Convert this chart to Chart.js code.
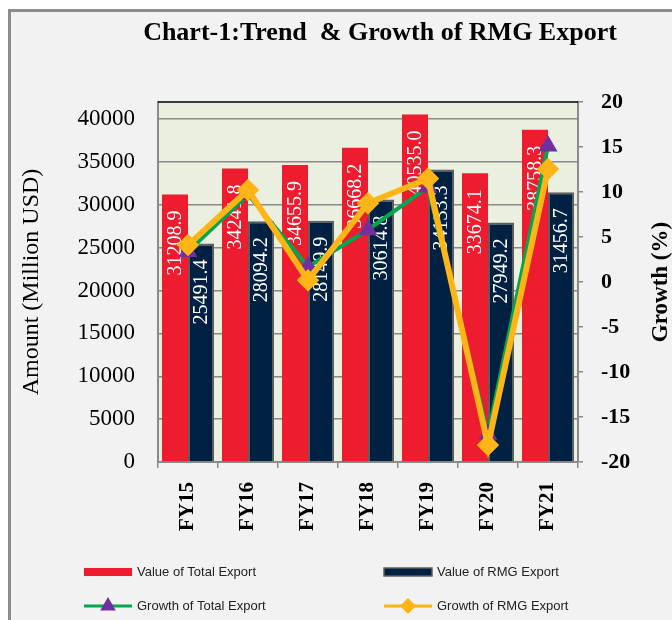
<!DOCTYPE html>
<html lang="en">
<head>
    <meta charset="UTF-8">
    <title>Chart-1: Trend & Growth of RMG Export</title>
    <style>
        body { margin: 0; background: #ffffff; }
        canvas { display: block; }
    </style>
    <script src="https://cdn.jsdelivr.net/npm/chart.js@4/dist/chart.umd.min.js"></script>
</head>
<body>
<canvas id="rmgChart" width="672" height="620"></canvas>
<script>
    // Data
    const years = ['FY15', 'FY16', 'FY17', 'FY18', 'FY19', 'FY20', 'FY21'];
    const totalExport = [31208.9, 34241.8, 34655.9, 36668.2, 40535.0, 33674.1, 38758.3];
    const rmgExport = [25491.4, 28094.2, 28149.9, 30614.8, 34133.3, 27949.2, 31456.7];
    const totalGrowth = [3.39, 9.72, 1.69, 5.81, 10.55, -16.93, 15.10];
    const rmgGrowth = [4.1, 10.21, 0.2, 8.76, 11.49, -18.12, 12.55];
    const amountTicks = [0, 5000, 10000, 15000, 20000, 25000, 30000, 35000, 40000];

    const serif = '"Liberation Serif", "Times New Roman", serif';
    const GRID = '#8a8a8a';

    // frame, plot background, title and right axis title
    const decorPlugin = {
        id: 'decor',
        beforeDraw(chart) {
            const ctx = chart.ctx;
            const a = chart.chartArea;
            ctx.save();
            ctx.fillStyle = '#ffffff';
            ctx.fillRect(0, 0, chart.width, chart.height);
            ctx.fillStyle = '#f2f2f2';
            ctx.fillRect(9, 10, chart.width, chart.height);
            ctx.strokeStyle = '#8c8c8c';
            ctx.lineWidth = 3;
            ctx.strokeRect(9.5, 10.5, chart.width + 10, chart.height + 10);
            ctx.fillStyle = '#ebefdf';
            ctx.fillRect(a.left, a.top, a.right - a.left, a.bottom - a.top);
            ctx.restore();
        },
        afterDraw(chart) {
            const ctx = chart.ctx;
            const a = chart.chartArea;
            ctx.save();
            // top border of plot
            ctx.strokeStyle = '#000000';
            ctx.lineWidth = 1.5;
            ctx.beginPath();
            ctx.moveTo(a.left, a.top);
            ctx.lineTo(a.right, a.top);
            ctx.stroke();
            // title
            ctx.fillStyle = '#000000';
            ctx.font = 'bold 26px ' + serif;
            ctx.textAlign = 'center';
            ctx.textBaseline = 'middle';
            ctx.fillText('Chart-1:Trend  & Growth of RMG Export', 380, 33);
            // right axis title, reading bottom to top
            ctx.font = 'bold 23px ' + serif;
            ctx.translate(661, (a.top + a.bottom) / 2);
            ctx.rotate(-Math.PI / 2);
            ctx.fillText('Growth (%)', 0, 0);
            ctx.restore();
        }
    };

    // white value labels inside the bars
    const barLabelPlugin = {
        id: 'barLabels',
        afterDatasetDraw(chart, args) {
            const ds = chart.data.datasets[args.index];
            if (ds.type !== 'bar') return;
            const ctx = chart.ctx;
            ctx.save();
            ctx.fillStyle = '#ffffff';
            ctx.font = '20px ' + serif;
            ctx.textAlign = 'right';
            ctx.textBaseline = 'middle';
            args.meta.data.forEach((bar, i) => {
                ctx.save();
                ctx.translate(bar.x, bar.y + 16);
                ctx.rotate(-Math.PI / 2);
                ctx.fillText(ds.data[i].toFixed(1), 0, 1);
                ctx.restore();
            });
            ctx.restore();
        }
    };

    // 2 x 2 legend under the chart
    const legendPlugin = {
        id: 'gridLegend',
        afterDraw(chart) {
            const ctx = chart.ctx;
            const slots = [[84, 572], [384, 572], [84, 606], [384, 606]];
            ctx.save();
            ctx.font = '13px "Liberation Sans", Arial, sans-serif';
            ctx.textBaseline = 'middle';
            ctx.textAlign = 'left';
            chart.data.datasets.forEach((ds, i) => {
                const [x, y] = slots[i];
                if (ds.type === 'bar') {
                    ctx.fillStyle = ds.backgroundColor;
                    ctx.fillRect(x, y - 4, 48, 8);
                    if (ds.borderWidth) {
                        ctx.strokeStyle = ds.borderColor;
                        ctx.lineWidth = 1.5;
                        ctx.strokeRect(x, y - 4, 48, 8);
                    }
                } else {
                    ctx.strokeStyle = ds.borderColor;
                    ctx.lineWidth = 3;
                    ctx.beginPath();
                    ctx.moveTo(x, y);
                    ctx.lineTo(x + 48, y);
                    ctx.stroke();
                    ctx.fillStyle = ds.pointBackgroundColor;
                    ctx.strokeStyle = ds.pointBackgroundColor;
                    Chart.helpers.drawPoint(ctx, {pointStyle: ds.pointStyle, radius: 6, borderWidth: 1, rotation: 0}, x + 24, y);
                }
                ctx.fillStyle = '#222222';
                ctx.fillText(ds.label, x + 53, y);
            });
            ctx.restore();
        }
    };

    const ctx = document.getElementById('rmgChart').getContext('2d');
    const rmgChart = new Chart(ctx, {
        data: {
            labels: years,
            datasets: [
                {
                    type: 'bar',
                    label: 'Value of Total Export',
                    data: totalExport,
                    backgroundColor: '#ed1c2e',
                    borderWidth: 0,
                    yAxisID: 'y',
                    order: 3
                },
                {
                    type: 'bar',
                    label: 'Value of RMG Export',
                    data: rmgExport,
                    backgroundColor: '#002142',
                    borderColor: '#5e5e5e',
                    borderWidth: 2,
                    yAxisID: 'y',
                    order: 4
                },
                {
                    type: 'line',
                    label: 'Growth of Total Export',
                    data: totalGrowth,
                    borderColor: '#00a650',
                    borderWidth: 4,
                    pointStyle: 'triangle',
                    pointRadius: 7,
                    pointBackgroundColor: '#7030a0',
                    pointBorderColor: '#7030a0',
                    tension: 0,
                    yAxisID: 'y1',
                    order: 2
                },
                {
                    type: 'line',
                    label: 'Growth of RMG Export',
                    data: rmgGrowth,
                    borderColor: '#ffb515',
                    borderWidth: 6,
                    pointStyle: 'rectRot',
                    pointRadius: 7,
                    pointBackgroundColor: '#ffb515',
                    pointBorderColor: '#ffb515',
                    tension: 0,
                    yAxisID: 'y1',
                    order: 1
                }
            ]
        },
        options: {
            responsive: false,
            animation: false,
            devicePixelRatio: 1,
            layout: { padding: { top: 102, left: 0, right: 0, bottom: 0 } },
            datasets: {
                bar: { categoryPercentage: 0.867, barPercentage: 1.0 }
            },
            plugins: {
                legend: { display: false },
                title: { display: false },
                tooltip: { enabled: false }
            },
            scales: {
                x: {
                    grid: { drawOnChartArea: false, drawTicks: true, tickLength: 6, color: GRID, lineWidth: 1.5 },
                    border: { color: GRID, width: 2 },
                    ticks: {
                        minRotation: 90,
                        maxRotation: 90,
                        padding: 14,
                        color: '#000000',
                        font: { family: serif, size: 21, weight: 'bold' }
                    },
                    afterFit(scale) { scale.height = 158; }
                },
                y: {
                    position: 'left',
                    min: 0,
                    max: 42000,
                    afterBuildTicks(scale) {
                        scale.ticks = amountTicks.map(v => ({ value: v }));
                    },
                    grid: { color: GRID, lineWidth: 1.5, drawTicks: false },
                    border: { color: GRID, width: 2 },
                    ticks: {
                        padding: 23,
                        color: '#000000',
                        font: { family: serif, size: 23 },
                        callback: v => String(v)
                    },
                    title: {
                        display: true,
                        text: 'Amount (Million USD)',
                        color: '#000000',
                        font: { family: serif, size: 24 },
                        padding: { top: 17, bottom: 0 }
                    },
                    afterFit(scale) { scale.width = 158; }
                },
                y1: {
                    position: 'right',
                    min: -20,
                    max: 20,
                    ticks: {
                        stepSize: 5,
                        padding: 18,
                        color: '#000000',
                        font: { family: serif, size: 22, weight: 'bold' }
                    },
                    grid: { drawOnChartArea: false, drawTicks: true, tickLength: 5, color: GRID, lineWidth: 1.5 },
                    border: { color: GRID, width: 2 },
                    afterFit(scale) { scale.width = 94; }
                }
            }
        },
        plugins: [decorPlugin, barLabelPlugin, legendPlugin]
    });
</script>
</body>
</html>
